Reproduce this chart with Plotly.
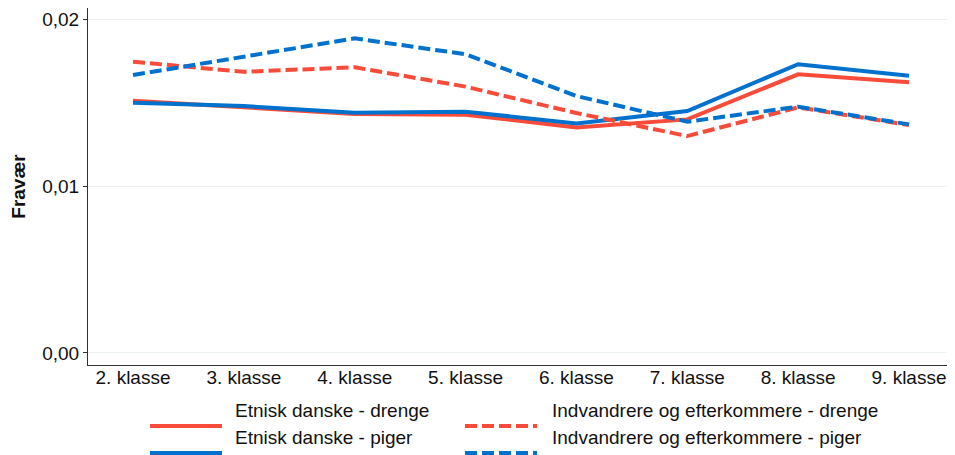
import plotly.graph_objects as go

categories = ["2. klasse", "3. klasse", "4. klasse", "5. klasse", "6. klasse", "7. klasse", "8. klasse", "9. klasse"]
dk_drenge = [0.01511, 0.01473, 0.01431, 0.01427, 0.01351, 0.01399, 0.01669, 0.01621]
dk_piger = [0.01499, 0.01479, 0.01439, 0.01445, 0.01375, 0.01449, 0.01729, 0.01660]
ind_drenge = [0.01744, 0.01684, 0.01711, 0.01595, 0.01437, 0.01299, 0.01471, 0.01365]
ind_piger = [0.01665, 0.01774, 0.01884, 0.01789, 0.01539, 0.01385, 0.01475, 0.01369]
series_names = ["Etnisk danske - drenge", "Etnisk danske - piger",
                "Indvandrere og efterkommere - drenge", "Indvandrere og efterkommere - piger"]
y_ticks = [0.0, 0.01, 0.02]

RED = "#F94B3A"
BLUE = "#0072CE"
DASH = "12px,5px"
FONT = "Liberation Sans, Arial, sans-serif"
FS = 19

W, H = 955, 455
ML, MR, MT, MB = 80, 8, 0, 98
PW = W - ML - MR
PH = H - MT - MB

fig = go.Figure()
styles = [(dk_drenge, RED, "solid"), (dk_piger, BLUE, "solid"),
          (ind_drenge, RED, DASH), (ind_piger, BLUE, DASH)]
for (vals, col, dash), name in zip(styles, series_names):
    fig.add_trace(go.Scatter(x=categories, y=vals, mode="lines", name=name,
                             line=dict(color=col, width=4, dash=dash),
                             showlegend=False))

# manual legend (keys sit below labels, as in the reference)
legend_items = [
    (142, 214, 418, 402, RED, False, series_names[0], 225),
    (142, 214, 445, 429, BLUE, False, series_names[1], 225),
    (457, 529, 418, 402, RED, True, series_names[2], 542),
    (457, 529, 445, 429, BLUE, True, series_names[3], 542),
]


def px(xp):
    return (xp - ML) / PW


def py(yp):
    return (MT + PH - yp) / PH


for x0, x1, ky, ty, col, dashed, label, tx in legend_items:
    fig.add_shape(type="line", xref="paper", yref="paper",
                  x0=px(x0), x1=px(x1), y0=py(ky), y1=py(ky),
                  line=dict(color=col, width=4, dash=DASH if dashed else "solid"))
    fig.add_annotation(xref="paper", yref="paper", x=px(tx), y=py(ty),
                       text=label, showarrow=False, xanchor="left", yanchor="middle",
                       font=dict(family=FONT, size=FS, color="#111"))

fig.update_layout(
    width=W, height=H,
    margin=dict(l=ML, r=MR, t=MT, b=MB, autoexpand=False),
    plot_bgcolor="white", paper_bgcolor="white",
    separators=",.",
    font=dict(family=FONT, size=FS, color="#111"),
)
fig.update_xaxes(range=[-0.406, 7.415], showgrid=False, showline=True, linecolor="#333",
                 linewidth=1, ticks="", ticklabelstandoff=-5,
                 tickfont=dict(size=FS, color="#111"), zeroline=False)
fig.update_yaxes(range=[-0.00072, 0.02066], tickvals=y_ticks, tickformat=".2f",
                 showgrid=True, gridcolor="#EBF0F2", gridwidth=1,
                 showline=True, linecolor="#333", linewidth=1,
                 ticks="outside", ticklen=4, tickcolor="#333",
                 tickfont=dict(size=FS, color="#111"), zeroline=False,
                 title=dict(text="<b>Fravær</b>", font=dict(size=FS, color="#111"), standoff=14))

fig.write_html("out.html")
